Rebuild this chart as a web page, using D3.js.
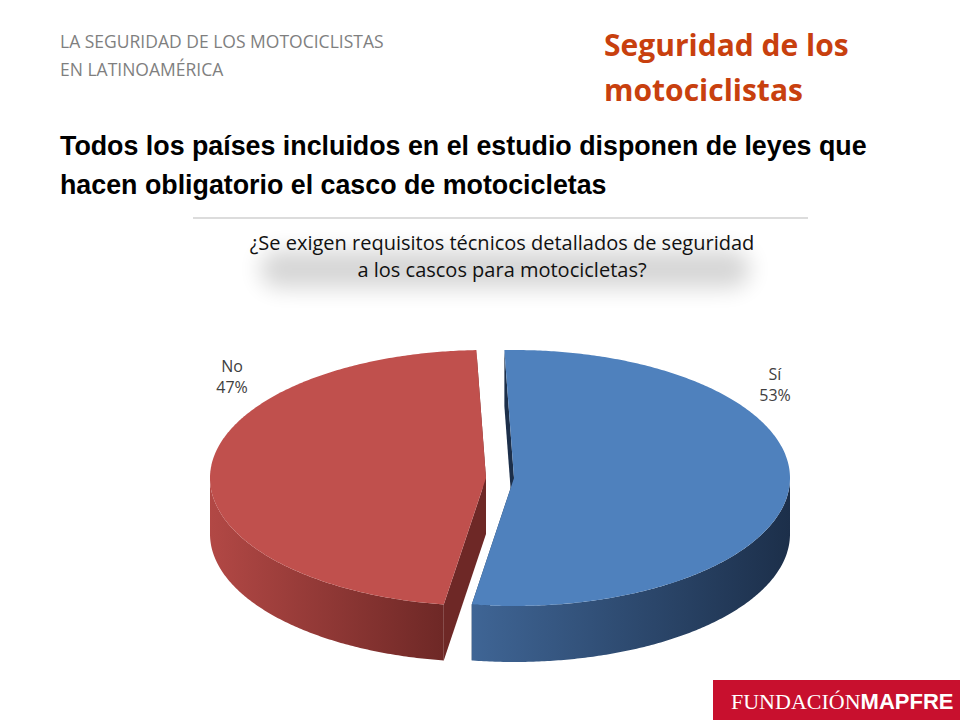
<!DOCTYPE html>
<html><head><meta charset="utf-8">
<script src="https://cdn.jsdelivr.net/npm/d3@7"></script>
<style>body{margin:0;background:#fff}</style>
</head><body><div id="chart"></div>
<script>
const width = 960, height = 720;
const labels = ["Sí", "No"];
const values = [53, 47];
const topColors = ["#4f81bd", "#c0504d"];
const wallColors = [["#1c2f4a", "#3f6595"], ["#6e2826", "#b24845"]];

const svg = d3.select("#chart").append("svg").attr("width", width).attr("height", height)
  .style("font-family", "'Open Sans', sans-serif");
const defs = svg.append("defs");
defs.append("filter").attr("id", "glow").attr("x", "-30%").attr("y", "-100%").attr("width", "160%").attr("height", "300%")
  .append("feGaussianBlur").attr("stdDeviation", 11);

// header
svg.append("text").attr("x", 60).attr("y", 48).attr("font-size", 17.5).attr("fill", "#7f7f7f").text("LA SEGURIDAD DE LOS MOTOCICLISTAS");
svg.append("text").attr("x", 60).attr("y", 76).attr("font-size", 17.5).attr("fill", "#7f7f7f").text("EN LATINOAMÉRICA");
svg.append("text").attr("x", 604).attr("y", 56).attr("font-size", 30).attr("font-weight", "bold").attr("fill", "#c8400e").text("Seguridad de los");
svg.append("text").attr("x", 604).attr("y", 101).attr("font-size", 30).attr("font-weight", "bold").attr("fill", "#c8400e").text("motociclistas");
svg.append("text").attr("x", 60).attr("y", 155).attr("font-size", 26.8).attr("font-weight", "bold").attr("fill", "#000")
  .attr("font-family", "'Liberation Sans', sans-serif").text("Todos los países incluidos en el estudio disponen de leyes que");
svg.append("text").attr("x", 60).attr("y", 194).attr("font-size", 26.8).attr("font-weight", "bold").attr("fill", "#000")
  .attr("font-family", "'Liberation Sans', sans-serif").text("hacen obligatorio el casco de motocicletas");
svg.append("line").attr("x1", 193).attr("x2", 808).attr("y1", 218).attr("y2", 218).attr("stroke", "#d0d0d0").attr("stroke-width", 1.5);

// question with soft shadow
svg.append("rect").attr("x", 260).attr("y", 250).attr("width", 490).attr("height", 38).attr("rx", 19)
  .attr("fill", "#000").attr("opacity", 0.16).attr("filter", "url(#glow)");
const q = ["¿Se exigen requisitos técnicos detallados de seguridad", "a los cascos para motocicletas?"];
q.forEach((t, i) => {
  svg.append("text").attr("x", 502).attr("y", 250 + i * 27).attr("text-anchor", "middle").attr("font-size", 20)
    .attr("fill", "#111").text(t);
});

// 3D pie
const cx = 500, cy = 478, rx = 276, ry = 128, depth = 56, explode = 14;
const arcs = d3.pie().sort(null).startAngle(-2 * Math.PI / 180).endAngle(358 * Math.PI / 180)(values);
const pt = (a, dx, dy) => [cx + dx + rx * Math.cos(a - Math.PI / 2), cy + dy + ry * Math.sin(a - Math.PI / 2)];
const g = svg.append("g");

arcs.forEach((d, i) => {
  const mid = (d.startAngle + d.endAngle) / 2;
  d.dx = explode * Math.sign(Math.cos(mid - Math.PI / 2)); d.dy = 0;
  const grad = defs.append("linearGradient").attr("id", "wall" + i).attr("x1", "0%").attr("x2", "100%");
  grad.append("stop").attr("offset", "0%").attr("stop-color", wallColors[i][1]);
  grad.append("stop").attr("offset", "100%").attr("stop-color", wallColors[i][0]);
});

// radial faces
arcs.forEach((d, i) => {
  [d.startAngle, d.endAngle].forEach(a => {
    const c = [cx + d.dx, cy + d.dy], p = pt(a, d.dx, d.dy);
    g.append("path").attr("d", `M${c}L${p}L${p[0]},${p[1] + depth}L${c[0]},${c[1] + depth}Z`)
      .attr("fill", wallColors[i][0]);
  });
});
// outer walls (front half only)
arcs.forEach((d, i) => {
  const lo = Math.max(d.startAngle, Math.PI / 2), hi = Math.min(d.endAngle, 3 * Math.PI / 2);
  if (hi <= lo) return;
  const a = d3.range(lo, hi, 0.01).concat([hi]);
  const top = a.map(t => pt(t, d.dx, d.dy));
  const bot = top.map(p => [p[0], p[1] + depth]).reverse();
  g.append("path").attr("d", "M" + top.concat(bot).join("L") + "Z").attr("fill", `url(#wall${i})`);
});
// top faces
arcs.forEach((d, i) => {
  const a = d3.range(d.startAngle, d.endAngle, 0.01).concat([d.endAngle]);
  const pts = [[cx + d.dx, cy + d.dy]].concat(a.map(t => pt(t, d.dx, d.dy)));
  g.append("path").attr("d", "M" + pts.join("L") + "Z").attr("fill", topColors[i]);
});

// labels
const labelPos = [[775, 380], [232, 372]];
arcs.forEach((d, i) => {
  const t = svg.append("text").attr("text-anchor", "middle").attr("font-size", 16).attr("fill", "#404040");
  t.append("tspan").attr("x", labelPos[i][0]).attr("y", labelPos[i][1]).text(labels[i]);
  t.append("tspan").attr("x", labelPos[i][0]).attr("y", labelPos[i][1] + 21).text(values[i] + "%");
});

// logo
svg.append("rect").attr("x", 713).attr("y", 680).attr("width", 247).attr("height", 40).attr("fill", "#c8102e");
const lg = svg.append("text").attr("x", 731).attr("y", 709).attr("fill", "#fff");
lg.append("tspan").attr("font-family", "'Liberation Serif', serif").attr("font-size", 22).text("FUNDACIÓN");
lg.append("tspan").attr("font-family", "'Liberation Sans', sans-serif").attr("font-weight", "bold").attr("font-size", 22).text("MAPFRE");
</script></body></html>
